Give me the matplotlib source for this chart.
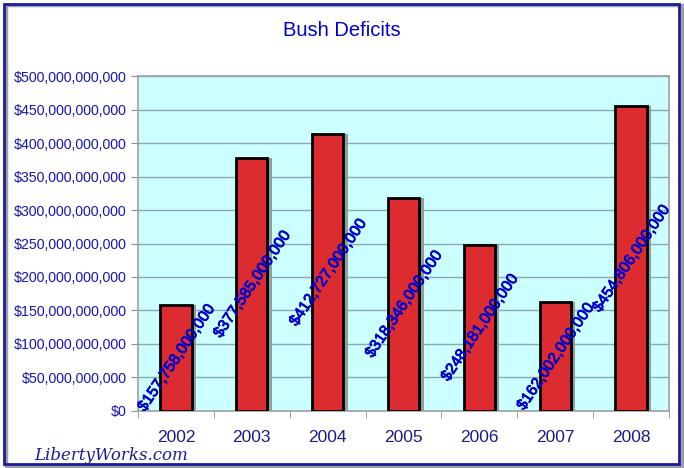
import matplotlib.pyplot as plt
import matplotlib.patheffects as pe
from matplotlib.patches import Rectangle
from matplotlib.ticker import FuncFormatter, MultipleLocator

years = ['2002', '2003', '2004', '2005', '2006', '2007', '2008']
deficits = [157758000000, 377585000000, 412727000000, 318346000000,
            248181000000, 162002000000, 454806000000]

plt.rcParams['font.family'] = ['Liberation Sans', 'DejaVu Sans']

fig = plt.figure(figsize=(6.84, 4.68), dpi=100)
fig.patch.set_facecolor('white')

# outer border with shadow
fig.add_artist(Rectangle((0.009, 0.005), 0.988, 0.984, transform=fig.transFigure,
                         facecolor='none', edgecolor='#a0a0a0', lw=2.5, zorder=0))
fig.add_artist(Rectangle((0.006, 0.009), 0.986, 0.982, transform=fig.transFigure,
                         facecolor='none', edgecolor='#1c1ca0', lw=2, zorder=1))

ax = fig.add_axes([0.2018, 0.1218, 0.7762, 0.7158])
ax.set_facecolor('#ccffff')

x = list(range(len(years)))
w = 0.41
# shadow
ax.bar([i + 0.06 for i in x], deficits, width=w, color='#8f9f9f', zorder=2)
ax.bar(x, deficits, width=w, color='#dd2c30', edgecolor='black', lw=2, zorder=3)

for i, v in zip(x, deficits):
    ax.text(i, v / 2, '${:,.0f}'.format(v), rotation=56, rotation_mode='anchor',
            ha='center', va='center', color='#0000cc', fontsize=11.2, zorder=4,
            path_effects=[pe.withStroke(linewidth=0.6, foreground='#0000cc')])

ax.set_xlim(-0.5, len(years) - 0.5)
ax.set_ylim(0, 500e9)
ax.yaxis.set_major_locator(MultipleLocator(50e9))
ax.yaxis.set_major_formatter(FuncFormatter(lambda v, p: '${:,.0f}'.format(v)))
ax.grid(axis='y', color='#8fa8b0', lw=1, zorder=1)
ax.set_axisbelow(True)

ax.set_xticks(x)
ax.set_xticklabels(years)
ax.set_xticks([i - 0.5 for i in range(len(years) + 1)], minor=True)
ax.tick_params(axis='x', which='major', length=0, pad=14, labelsize=12.5, labelcolor='#1a1a8c')
ax.tick_params(axis='x', which='minor', length=5, color='#909090')
ax.tick_params(axis='y', length=5, color='#909090', labelsize=10.2, labelcolor='#1515b5', pad=3)

for s in ax.spines.values():
    s.set_color('#a0a0a0')
    s.set_linewidth(1.2)

fig.text(0.5, 0.935, 'Bush Deficits', ha='center', va='center', fontsize=14.5, color='#0000cc')

fig.text(0.05, 0.027, 'LibertyWorks.com', ha='left', va='center', fontsize=12,
         family=['DejaVu Serif'], style='italic', color='#1c1c8c')

fig.savefig('out.png', dpi=100)
